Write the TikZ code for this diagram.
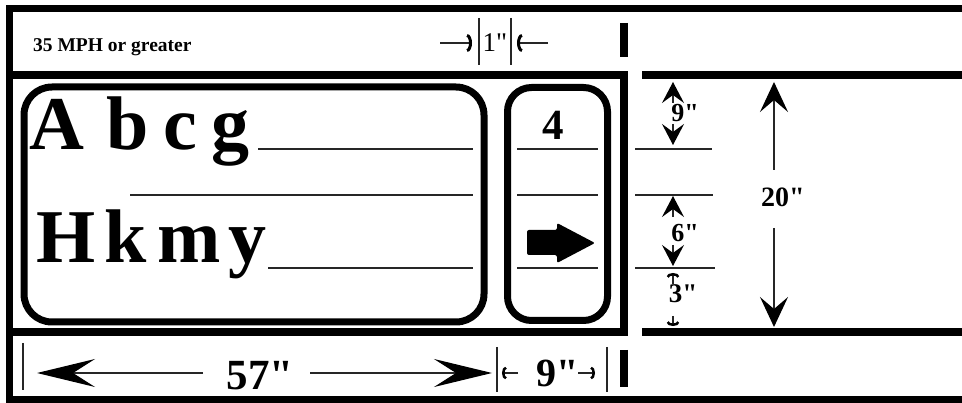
\documentclass[tikz,border=0pt]{standalone}
\usepackage{amsmath}
\usepackage{fontspec}
\setmainfont{Liberation Serif}[Ligatures=TeXOff]
\usetikzlibrary{arrows.meta}
\begin{document}
\begin{tikzpicture}
[x=1pt,y=-1pt,
 frame/.style={line width=8pt},
 panel/.style={line width=7pt},
 rule/.style={line width=1.3pt,black!85},
 big/.style={font=\bfseries\fontsize{76}{76}\selectfont,inner sep=0pt,anchor=base west},
 lab/.style={font=\bfseries\fontsize{26}{26}\selectfont,inner sep=0pt,anchor=base},
 chev/.style={rule,-{Stealth[length=21pt,width=22pt,inset=8pt,color=black]}},
 bigchev/.style={rule,-{Stealth[length=30pt,width=28pt,inset=12pt,color=black]}},
 wide/.style={rule,-{Stealth[length=58pt,width=28pt,inset=22pt,color=black]}},
 barb/.style={rule,-{Arc Barb[length=5pt,width=18pt,line width=3pt,color=black]}},
 smallbarb/.style={rule,-{Arc Barb[length=4pt,width=13pt,line width=2.5pt,color=black]}}]
\useasboundingbox (0,0) rectangle (962,403);
\draw[line width=7pt] (962,9) -- (9.5,9) -- (9.5,399.5) -- (962,399.5);
\draw[frame] (9.5,75.5) -- (624,75.5) -- (624,332) -- (9.5,332);
\draw[frame] (642,75.5) -- (962,75.5);
\draw[frame] (642,332) -- (962,332);
\draw[frame] (624,23) -- (624,57);
\draw[frame] (624,350) -- (624,387);
\draw[panel,rounded corners=28pt] (24,87) rectangle (484,322);
\draw[panel,rounded corners=24pt] (507.5,87.5) rectangle (607.5,320.5);
\foreach \l/\x [count=\i] in {A/29,b/106,c/163,g/211} \node[big] (a\i) at (\x,150) {\l};
\foreach \l/\x [count=\i] in {H/36,k/104,m/157,y/228} \node[big] (h\i) at (\x,263) {\l};
\draw[rule] (258,149) -- (473,149);
\draw[rule] (130,195) -- (473,195);
\draw[rule] (268,268) -- (473,268);
\foreach \y in {149,195,268} \draw[rule] (517,\y) -- (598,\y);
\node[lab,font=\bfseries\fontsize{43}{43}\selectfont] (four) at (553,140) {4};
\fill[rounded corners=2pt] (527,230) -- (557,230) -- (557,223) -- (595,243) -- (557,263) -- (557,255) -- (527,255) -- cycle;
\draw[rule] (635,149) -- (712,149);
\draw[rule] (635,195) -- (713,195);
\draw[rule] (635,268) -- (715,268);
\node[lab] (d9) at (685,122) {9"};
\draw[chev] (673,103) -- (673,82);
\draw[chev] (673,124) -- (673,145);
\node[lab] (d6) at (685,242) {6"};
\draw[chev] (673,217) -- (673,196);
\draw[chev] (673,245) -- (673,266);
\node[lab,font=\bfseries\fontsize{27}{27}\selectfont] (d3) at (683,303) {3"};
\draw[smallbarb] (673,284) -- (673,273);
\draw[smallbarb] (673,316) -- (673,326);
\node[lab,font=\bfseries\fontsize{28}{28}\selectfont] (d20) at (783,207) {20"};
\draw[bigchev] (774,170) -- (774,82);
\draw[bigchev] (774,228) -- (774,327);
\node[font=\bfseries\fontsize{19.5}{19.5}\selectfont,inner sep=0pt,anchor=base west] (speed) at (33,52) {35 MPH or greater};
\node[font=\fontsize{27}{27}\selectfont,inner sep=0pt,anchor=base] (one) at (495,52) {1"};
\draw[rule] (479,18) -- (479,65);
\draw[rule] (511,18) -- (511,65);
\draw[barb] (440,43) -- (472,43);
\draw[barb] (548,43) -- (517,43);
\node[lab,font=\bfseries\fontsize{43}{43}\selectfont] (d57) at (260,390) {57"};
\draw[rule] (23,343) -- (23,390);
\draw[wide] (203,373) -- (37,373);
\draw[wide] (310,373) -- (492,373);
\draw[rule] (497,347) -- (497,392);
\draw[rule] (607,347) -- (607,392);
\node[lab,font=\bfseries\fontsize{40}{40}\selectfont] (nine) at (558,387) {9"};
\draw[smallbarb] (518,373) -- (502,373);
\draw[smallbarb] (578,373) -- (595,373);
\end{tikzpicture}
\end{document}
